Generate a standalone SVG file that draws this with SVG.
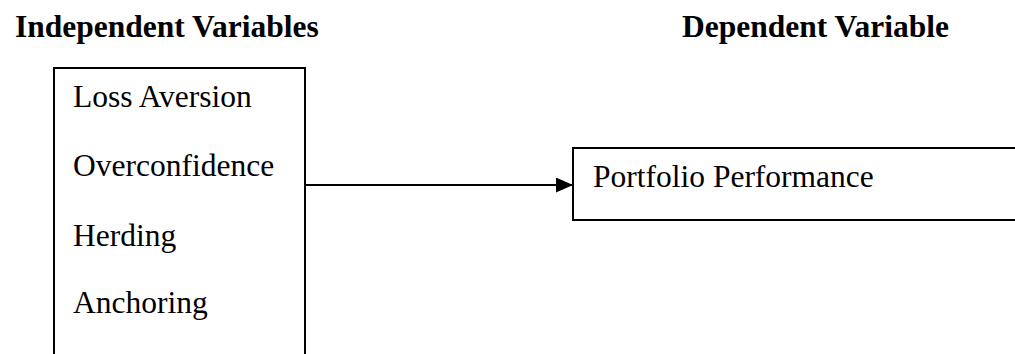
<svg xmlns="http://www.w3.org/2000/svg" width="1015" height="354" viewBox="0 0 1015 354">
<style>
text{font-family:"Liberation Serif","Times New Roman",serif;font-size:31.5px;fill:#000}
.h{font-weight:bold}
.box{fill:#fff;stroke:#000;stroke-width:2}
.conn{stroke:#000;stroke-width:2;fill:none}
</style>
<defs>
<marker id="ah" markerUnits="userSpaceOnUse" markerWidth="17" markerHeight="15" refX="17" refY="7.5" orient="auto">
<path d="M0,0 L17,7.5 L0,15 Z" fill="#000"/>
</marker>
</defs>
<rect width="1015" height="354" fill="#fff"/>
<g id="headers">
<text class="h" x="15" y="37">Independent Variables</text>
<text class="h" x="682" y="37">Dependent Variable</text>
</g>
<g id="independent">
<rect class="box" x="54" y="68" width="251" height="300"/>
<text x="73" y="107">Loss Aversion</text>
<text x="73" y="175.5">Overconfidence</text>
<text x="73" y="245.5">Herding</text>
<text x="73" y="313">Anchoring</text>
</g>
<g id="dependent">
<rect class="box" x="573" y="148" width="460" height="72"/>
<text x="593" y="187">Portfolio Performance</text>
</g>
<g id="connectors">
<line class="conn" x1="305" y1="185" x2="573" y2="185" marker-end="url(#ah)"/>
</g>
</svg>
